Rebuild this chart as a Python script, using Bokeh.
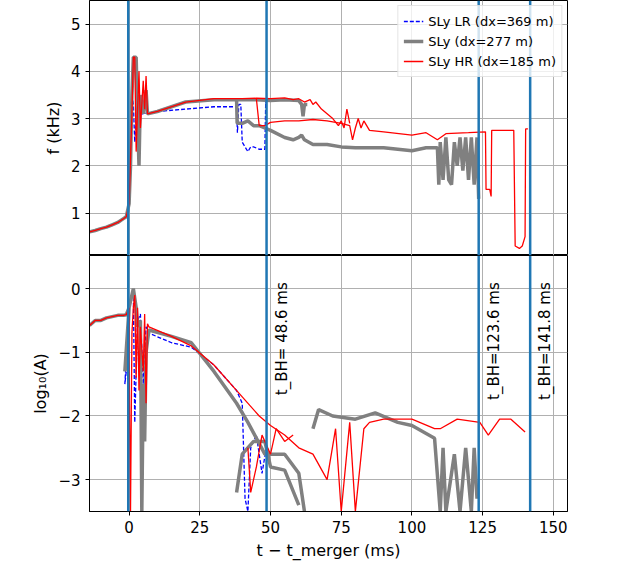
import numpy as np
from bokeh.plotting import figure
from bokeh.layouts import gridplot
from bokeh.models import Span, Label, Range1d, Legend, LegendItem
from bokeh.embed import file_html
from bokeh.resources import INLINE

nan = np.nan

# inspiral, shared by all runs
t_insp = [-14, -12, -10, -8, -6, -4, -2, -1, 0]
f_insp = [0.6, 0.63, 0.67, 0.7, 0.75, 0.8, 0.88, 0.92, 1.2]
a_insp = [-0.58, -0.5, -0.5, -0.46, -0.44, -0.42, -0.42, -0.41, -0.3]

# frequency (kHz)
t_f_lr = [0, 0.5, 1, 1.5, 2, 2.5, 3, 5, 10, 20, 30, 38, 38.3, 38.8, 39.5, 40, 41, 42, 43, 44, 46, 48, 48.3, 48.6]
f_lr = [1.2, 2.0, 3.5, 3.3, 2.5, 3.0, 3.1, 3.1, 3.15, 3.2, 3.25, 3.25, 2.7, 3.3, 3.3, 2.5, 2.4, 2.3, 2.4, 2.4, 2.35, 2.35, 3.35, 3.3]
t_f_mid = [0, 0.5, 1, 1.5, 2.5, 3, 3.5, 4, 5, 6, 6.5, 10, 20, 30, 38, 38.2, 40, 42, 44, 46, 48, 50, 55, 58, 60, 61, 62, 65,
           70, 75, 80, 90, 100, 105, 109, 109.5, 110, 111, 112, 113, 114, 115, 116, 117, 118, 119, 120, 121, 122, 123, 123.6]
f_mid = [1.2, 2.0, 3.5, 4.3, 4.3, 3.0, 2.0, 3.5, 3.1, 3.6, 3.1, 3.15, 3.35, 3.4, 3.4, 2.9, 2.9, 2.95, 2.85, 2.85, 2.8, 2.75,
         2.6, 2.55, 2.6, 2.65, 2.55, 2.45, 2.45, 2.4, 2.38, 2.38, 2.32, 2.38, 2.38, 1.6, 2.5, 1.7, 2.6, 1.7, 1.6, 2.5, 2.0, 2.6,
         1.9, 2.6, 1.7, 2.6, 1.6, 2.6, 1.3]
t_f_mid2 = [38, 45, 50, 55, 60, 61, 61.5, 62, 63]
f_mid2 = [3.4, 3.4, 3.38, 3.4, 3.38, 3.3, 3.05, 3.3, 3.3]
t_f_hr = [0, 1, 1.5, 2, 2.5, 3, 3.5, 4, 5, 5.5, 6, 6.5, 10, 20, 30, 40, 45, 50, 55, 58, 60, 62, 64, 65, 66, 68, 70, 72, 74,
          75, 76, 77, 78]
f_hr = [1.2, 3.1, 4.3, 4.3, 2.3, 3.2, 4.0, 2.8, 3.8, 3.2, 3.9, 3.1, 3.15, 3.35, 3.42, 3.42, 3.43, 3.42, 3.44, 3.4, 3.42,
        3.35, 3.4, 3.3, 3.35, 3.2, 3.1, 3.0, 2.85, 2.95, 2.8, 3.2, 2.9]
t_f_hr2 = [45, 46, 48, 50, 55, 60, 65, 70, 75, 78, 79, 80, 81, 82, 83, 85, 90, 100, 105, 109, 112, 120, 126, 126.2, 127.5,
           128, 128.2, 136, 136.5, 138, 139, 140, 140.2, 141]
f_hr2 = [3.42, 2.85, 2.85, 2.92, 2.95, 2.95, 2.98, 2.95, 2.9, 2.85, 2.55, 2.8, 3.0, 2.8, 2.95, 2.75, 2.72, 2.65, 2.7, 2.55,
         2.68, 2.7, 2.72, 1.5, 1.5, 1.35, 2.75, 2.75, 0.3, 0.25, 0.3, 0.5, 2.78, 2.78]

# log10 amplitude
t_a_lr = [-1.5, -1, 0, 1, 1.5, 2, 3, 4, 5, 6, 7, 15, 22, 30, 38, 40, 41, 42, 43, 45, 47, 48.5]
a_lr = [-1.5, -1.3, -0.3, -0.1, -0.05, -2.1, -0.5, -0.4, -1.5, -0.6, -0.7, -0.85, -0.92, -1.2, -1.6, -1.8, -3.3, -3.5,
        -2.5, -2.3, -2.9, -2.5]
t_a_mid = [-1.5, -1, 0, 1, 1.5, 2.5, 3, 4, 4.5, 5, 5.5, 6, 7, 15, 22, 30, 38, 42, 48, 55, 60, 62, nan,
           65, 67, 72, 80, 87, 95, 100, 108, 110, 111, 112, 115, 117, 119, 121, 122, 123]
a_mid = [-1.3, -1.2, -0.3, -0.1, 0.0, -0.3, -0.6, -0.5, -3.5, -1.5, -2.4, -1.0, -0.65, -0.75, -0.85, -1.3, -1.8, -2.1, -2.6,
         -2.6, -2.9, -3.5, nan, -2.2, -1.9, -2.0, -2.05, -1.95, -2.1, -2.15, -2.35, -3.5, -2.5, -3.5, -2.6, -3.5, -2.5,
         -3.5, -2.5, -3.3]
t_a_mid2 = [38, 39, 40, 44, 48, 50, 55, 60]
a_mid2 = [-3.2, -2.9, -2.6, -2.4, -2.4, -2.8, -2.85, -3.4]
t_a_hr = [0, 0.5, 1, 1.5, 2, 2.5, 3, 3.5, 4, 5, 5.5, 6, 6.5, 7, 15, 22, 30, 40, 46, 50, 55, 60, 65, 70, 73, 75, 78, 80, 83,
          85, 90, 100, 108, 110, 116, 124, 127, 131, 135, 140]
a_hr = [-1.1, -3.5, -0.7, -0.3, -0.1, -1.4, -0.3, -1.6, -0.6, -1.3, -0.4, -1.8, -0.55, -0.6, -0.75, -0.9, -1.2, -1.7,
        -2.0, -2.15, -2.3, -2.5, -2.6, -3.0, -2.2, -3.5, -2.1, -3.5, -2.2, -2.1, -2.05, -2.05, -2.2, -2.2, -2.05, -2.1,
        -2.3, -2.05, -2.05, -2.25]
t_a_hr2 = [42, 43, 45, 47, 50, 52, 55, 58]
a_hr2 = [-2.5, -3.2, -2.8, -2.3, -2.6, -2.2, -2.4, -2.3]

t_bh = [48.6, 123.6, 141.8]
bh_labels = ["t_BH= 48.6 ms", "t_BH=123.6 ms", "t_BH=141.8 ms"]

BLUE, GREY, RED, LINE = "#0000ff", "#808080", "#ff0000", "#1f77b4"
FONT = "DejaVu Sans"
xr = Range1d(-14, 155)


def style(p):
    p.xgrid.grid_line_color = "#b0b0b0"
    p.ygrid.grid_line_color = "#b0b0b0"
    p.outline_line_color = "black"
    for ax in p.axis:
        ax.major_label_text_font_size = "15px"
        ax.major_label_text_font = FONT
        ax.major_label_text_color = "black"
        ax.axis_label_text_font = FONT
        ax.axis_label_text_font_size = "16px"
        ax.axis_label_text_font_style = "normal"
        ax.axis_label_text_color = "black"
        ax.major_tick_in = 0
        ax.major_tick_out = 4
        ax.minor_tick_line_color = None
        ax.axis_line_color = "black"
    p.xaxis.ticker = [0, 25, 50, 75, 100, 125, 150]


top = figure(frame_width=478, frame_height=255, x_range=xr, y_range=Range1d(0.1, 5.5),
             output_backend="svg", toolbar_location=None,
             min_border_left=89, min_border_right=40, min_border_top=0, min_border_bottom=0)
style(top)
top.yaxis.ticker = [1, 2, 3, 4, 5]
top.yaxis.axis_label = "f (kHz)"
top.xaxis.visible = False

bot = figure(frame_width=478, frame_height=256, x_range=xr, y_range=Range1d(-3.5, 0.52),
             output_backend="svg", toolbar_location=None,
             min_border_left=89, min_border_right=40, min_border_top=0)
style(bot)
bot.yaxis.ticker = [-3, -2, -1, 0]
bot.yaxis.axis_label = "log₁₀(A)"
bot.xaxis.axis_label = "t − t_merger (ms)"

for p in (top, bot):
    for tb in [-0.3] + t_bh:
        p.add_layout(Span(location=tb, dimension="height", line_color=LINE, line_width=2.5))

r_lr = top.line(t_insp + t_f_lr, f_insp + f_lr, color=BLUE, line_width=1.3, line_dash="4 2")
r_mid = top.line(t_insp + t_f_mid, f_insp + f_mid, color=GREY, line_width=3.5)
top.line(t_f_mid2, f_mid2, color=GREY, line_width=3.5)
r_hr = top.line(t_insp + t_f_hr, f_insp + f_hr, color=RED, line_width=1.3)
top.line(t_f_hr2, f_hr2, color=RED, line_width=1.3)

bot.line(t_insp + t_a_lr, a_insp + a_lr, color=BLUE, line_width=1.3, line_dash="4 2")
bot.line(t_insp + t_a_mid, a_insp + a_mid, color=GREY, line_width=3.5)
bot.line(t_a_mid2, a_mid2, color=GREY, line_width=3.5)
bot.line(t_insp + t_a_hr, a_insp + a_hr, color=RED, line_width=1.3)
bot.line(t_a_hr2, a_hr2, color=RED, line_width=1.3)

legend = Legend(items=[LegendItem(label="SLy LR (dx=369 m)", renderers=[r_lr]),
                       LegendItem(label="SLy (dx=277 m)", renderers=[r_mid]),
                       LegendItem(label="SLy HR (dx=185 m)", renderers=[r_hr])],
                location="top_right", label_text_font_size="13px", label_text_font=FONT,
                label_text_color="black", spacing=0, padding=5, margin=5,
                border_line_color="#cccccc", background_fill_alpha=0.8, label_height=20, glyph_height=20)
top.add_layout(legend)

for tb, lab in zip(t_bh, bh_labels):
    bot.add_layout(Label(x=tb + 2.2, y=0.1, text=lab, angle=np.pi / 2, text_align="right",
                         text_baseline="top", text_font_size="15px", text_font=FONT,
                         text_color="black"))

p = gridplot([[top], [bot]], toolbar_location=None)
open("out.html", "w").write(file_html(p, INLINE))
